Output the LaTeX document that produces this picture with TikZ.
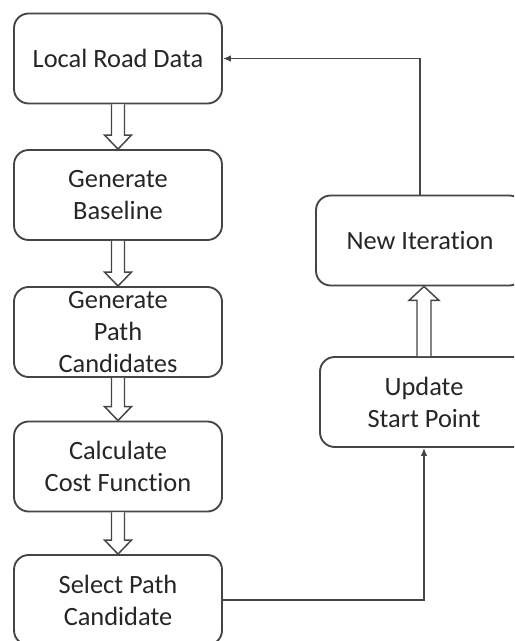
\documentclass[tikz,border=0pt]{standalone}
\usepackage{fontspec}
\setmainfont[Ligatures={NoCommon}]{Carlito}
\usetikzlibrary{calc,arrows.meta}
\definecolor{lc}{HTML}{454545}
\definecolor{tc}{HTML}{262626}
\tikzset{
  box/.style={draw=lc, line width=1.4pt, rounded corners=11pt, fill=white,
    minimum width=156pt, minimum height=67.5pt, inner sep=0pt,
    align=center, text=tc, font=\fontsize{19.8}{24}\selectfont},
  hollow/.style={draw=lc, line width=1.1pt, fill=white, line join=miter},
  link/.style={draw=lc, line width=1.1pt, -{Latex[length=6pt,width=5pt]}}
}
\newcommand{\hollowdown}[2]{%
  \draw[hollow] ($(#1.south)+(-6.5,0)$) -- ($(#2.north)+(-6.5,-14)$) -- ($(#2.north)+(-13.5,-14)$)
    -- (#2.north) -- ($(#2.north)+(13.5,-14)$) -- ($(#2.north)+(6.5,-14)$) -- ($(#1.south)+(6.5,0)$);}
\begin{document}
\begin{tikzpicture}[x=0.75pt,y=-0.75pt]
\clip (0,0) rectangle (514,641);
\fill[white] (0,0) rectangle (514,641);
\node[box] (lrd) at (118,58.5) {Local Road Data};
\node[box] (gb) at (118,195) {Generate\\Baseline};
\node[box] (gpc) at (118,332) {Generate\\Path\\Candidates};
\node[box] (ccf) at (118,466.5) {Calculate\\Cost Function};
\node[box] (spc) at (118,600) {Select Path\\Candidate};
\node[box] (ni) at (420,240.5) {New Iteration};
\node[box] (usp) at (424,402) {Update\\Start Point};
\hollowdown{lrd}{gb}
\hollowdown{gb}{gpc}
\hollowdown{gpc}{ccf}
\hollowdown{ccf}{spc}
\coordinate (nit) at (ni.south -| usp.north);
\draw[hollow] ($(usp.north)+(-7,0)$) -- ($(nit)+(-7,14)$) -- ($(nit)+(-15,14)$)
  -- (nit) -- ($(nit)+(15,14)$) -- ($(nit)+(7,14)$) -- ($(usp.north)+(7,0)$);
\draw[link] (spc.east) -| (usp.south);
\draw[link] (ni.north) |- (lrd.east);
\end{tikzpicture}
\end{document}
